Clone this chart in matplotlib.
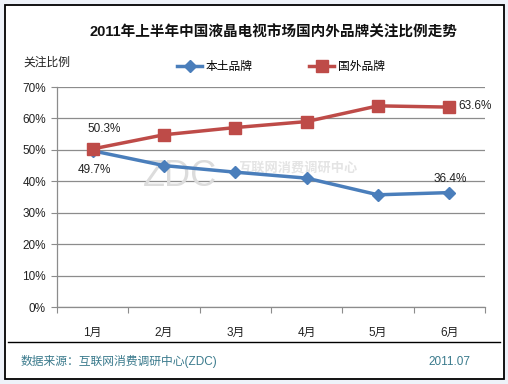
import matplotlib
matplotlib.use("Agg")
import matplotlib.pyplot as plt
from matplotlib.patches import Rectangle
from matplotlib.lines import Line2D

plt.rcParams['font.family'] = ['Liberation Sans', 'Noto Sans CJK SC', 'DejaVu Sans']

months = ['1月', '2月', '3月', '4月', '5月', '6月']
domestic = [49.7, 45.0, 42.9, 41.0, 35.7, 36.4]
foreign = [50.3, 54.8, 57.1, 59.0, 64.0, 63.6]
yticks = [0, 10, 20, 30, 40, 50, 60, 70]
title = '2011年上半年中国液晶电视市场国内外品牌关注比例走势'
ylabel = '关注比例'
series_names = ['本土品牌', '国外品牌']
source = '数据来源：互联网消费调研中心(ZDC)'
date = '2011.07'

W, H = 508, 384
fig = plt.figure(figsize=(W / 100, H / 100), dpi=100)
fig.patch.set_facecolor('#eef2f9')

# white panel with black border
fig.add_artist(Rectangle((4.5 / W, 1 - 378.5 / H), 499 / W, 374 / H, transform=fig.transFigure,
                         facecolor='white', edgecolor='black', linewidth=1.3, zorder=0))
fig.add_artist(Line2D([8 / W, 500 / W], [1 - 342 / H, 1 - 342 / H], transform=fig.transFigure,
                      color='black', linewidth=1.0))

ax = fig.add_axes([57 / W, 1 - 307 / H, (485 - 57) / W, (307 - 87) / H])
ax.set_facecolor('none')
x = list(range(len(months)))
blue = '#4a7ebb'
red = '#be4b48'

ax.set_xlim(-0.5, len(months) - 0.5)
ax.set_ylim(0, 70)
ax.set_yticks(yticks)
ax.set_yticklabels([f'{v}%' for v in yticks], fontsize=8.5, color='#222222')
ax.yaxis.grid(True, color='#8c8c8c', linewidth=0.9)
ax.set_axisbelow(True)
for s in ['top', 'right']:
    ax.spines[s].set_visible(False)
for s in ['left', 'bottom']:
    ax.spines[s].set_color('#8c8c8c')
    ax.spines[s].set_linewidth(0.9)
ax.tick_params(axis='y', length=4, color='#8c8c8c', pad=4)

# x ticks at category boundaries, labels at centers
ax.set_xticks([i - 0.5 for i in range(len(months) + 1)])
ax.set_xticklabels([])
ax.set_xticks(x, minor=True)
ax.set_xticklabels(months, minor=True, fontsize=8.5, color='#222222')
ax.tick_params(axis='x', which='major', length=4, color='#8c8c8c')
ax.tick_params(axis='x', which='minor', length=0, pad=14)

# watermark
ax.text(1.22, 41.4, 'ZDC', fontsize=26, color='#dcdcdc', ha='center', va='center',
        family='Liberation Sans', zorder=1)
ax.text(2.88, 44.2, '互联网消费调研中心', fontsize=9.5, color='#e4e4e4', ha='center', va='center',
        fontweight='bold', zorder=1)

ax.plot(x, domestic, color=blue, linewidth=2.5, marker='D', markersize=6.5,
        markerfacecolor=blue, markeredgecolor=blue, label=series_names[0], zorder=3)
ax.plot(x, foreign, color=red, linewidth=2.5, marker='s', markersize=8,
        markerfacecolor=red, markeredgecolor=red, label=series_names[1], zorder=3)

lab_kw = dict(fontsize=8.5, color='#222222', zorder=4, va='center')
ax.text(0.16, 56.6, f'{foreign[0]}%', ha='center', **lab_kw)
ax.text(0.02, 43.6, f'{domestic[0]}%', ha='center', **lab_kw)
ax.text(5.01, 40.7, f'{domestic[5]}%', ha='center', **lab_kw)
ax.text(5.13, 64.0, f'{foreign[5]}%', ha='left', **lab_kw)

fig.text(273 / W, 1 - 33 / H, title, ha='center', va='center', fontsize=10.5,
         fontweight='bold', color='#111111')
fig.text(23 / W, 1 - 63 / H, ylabel, ha='left', va='center', fontsize=8.5, color='#222222')

leg = fig.legend(loc='center', bbox_to_anchor=(281 / W, 1 - 67 / H), ncol=2, frameon=False,
                 fontsize=8.5, handlelength=2.1, columnspacing=4.8, handletextpad=0.3)

fig.text(21 / W, 1 - 362 / H, source, ha='left', va='center', fontsize=8.5, color='#3a7a8c')
fig.text(470 / W, 1 - 362 / H, date, ha='right', va='center', fontsize=8.5, color='#3a7a8c')

fig.savefig('out.png', dpi=100, facecolor=fig.get_facecolor())
